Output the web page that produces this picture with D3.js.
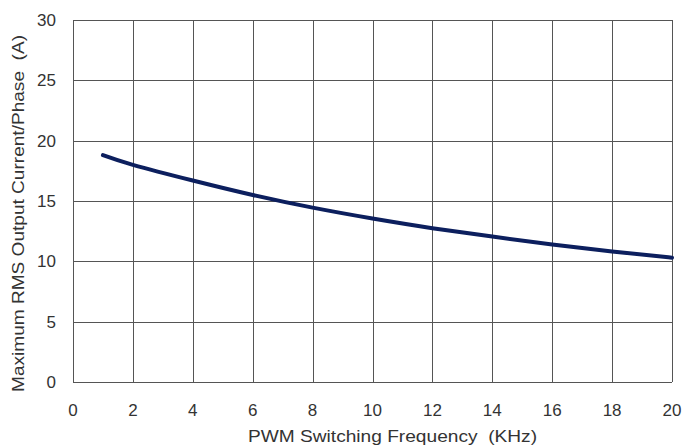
<!DOCTYPE html>
<html>
<head>
<meta charset="utf-8">
<script src="https://cdn.jsdelivr.net/npm/d3@7"></script>
<style>
  body { margin: 0; background: #fff; }
  text { font-family: "Liberation Sans", Arial, sans-serif; fill: #333; }
</style>
</head>
<body>
<div id="chart"></div>
<script>
(function() {
    var freq = [1, 2, 4, 6, 8, 10, 12, 14, 16, 18, 20];
    var current = [18.8, 18.0, 16.7, 15.5, 14.45, 13.55, 12.75, 12.05, 11.4, 10.82, 10.3];
    var xTicks = [0, 2, 4, 6, 8, 10, 12, 14, 16, 18, 20];
    var yTicks = [0, 5, 10, 15, 20, 25, 30];

    var margin = { top: 20, left: 73, right: 13, bottom: 63 },
        width = 685 - margin.left - margin.right,
        height = 445 - margin.top - margin.bottom;

    var svg = d3.select("#chart")
        .append("svg")
        .attr("width", 685)
        .attr("height", 445)
        .append("g")
        .attr("transform", "translate(" + margin.left + "," + margin.top + ")");

    var x = d3.scaleLinear().domain([0, 20]).range([0, width]);
    var y = d3.scaleLinear().domain([0, 30]).range([height, 0]);

    // grid
    svg.selectAll(".vgrid").data(xTicks).enter().append("line")
        .attr("x1", d => Math.round(x(d)) + 0.5).attr("x2", d => Math.round(x(d)) + 0.5)
        .attr("y1", 0).attr("y2", height)
        .attr("stroke", "#555").attr("stroke-width", 1);
    svg.selectAll(".hgrid").data(yTicks).enter().append("line")
        .attr("y1", d => Math.round(y(d)) + 0.5).attr("y2", d => Math.round(y(d)) + 0.5)
        .attr("x1", 0).attr("x2", width)
        .attr("stroke", "#555").attr("stroke-width", 1);

    // tick labels
    svg.selectAll(".xlab").data(xTicks).enter().append("text")
        .attr("x", d => x(d)).attr("y", height + 34)
        .attr("text-anchor", "middle")
        .style("font-size", "17px")
        .text(d => d);
    svg.selectAll(".ylab").data(yTicks).enter().append("text")
        .attr("x", -17).attr("y", d => y(d) + 6)
        .attr("text-anchor", "end")
        .style("font-size", "17px")
        .text(d => d);

    // axis titles
    svg.append("text")
        .attr("x", 248 - margin.left).attr("y", height + 60)
        .style("font-size", "17px")
        .attr("xml:space", "preserve")
        .attr("textLength", 289)
        .attr("lengthAdjust", "spacingAndGlyphs")
        .text("PWM Switching Frequency  (KHz)");
    svg.append("text")
        .attr("transform", "translate(-49," + (392 - margin.top) + ") rotate(-90)")
        .style("font-size", "17px")
        .attr("xml:space", "preserve")
        .attr("textLength", 357)
        .attr("lengthAdjust", "spacingAndGlyphs")
        .text("Maximum RMS Output Current/Phase  (A)");

    // curve
    var line = d3.line()
        .x((d, i) => x(freq[i]))
        .y(d => y(d))
        .curve(d3.curveNatural);

    svg.append("path")
        .datum(current)
        .attr("d", line)
        .attr("fill", "none")
        .attr("stroke", "#0c1f5e")
        .attr("stroke-width", 4)
        .attr("stroke-linecap", "round");
})();
</script>
</body>
</html>
